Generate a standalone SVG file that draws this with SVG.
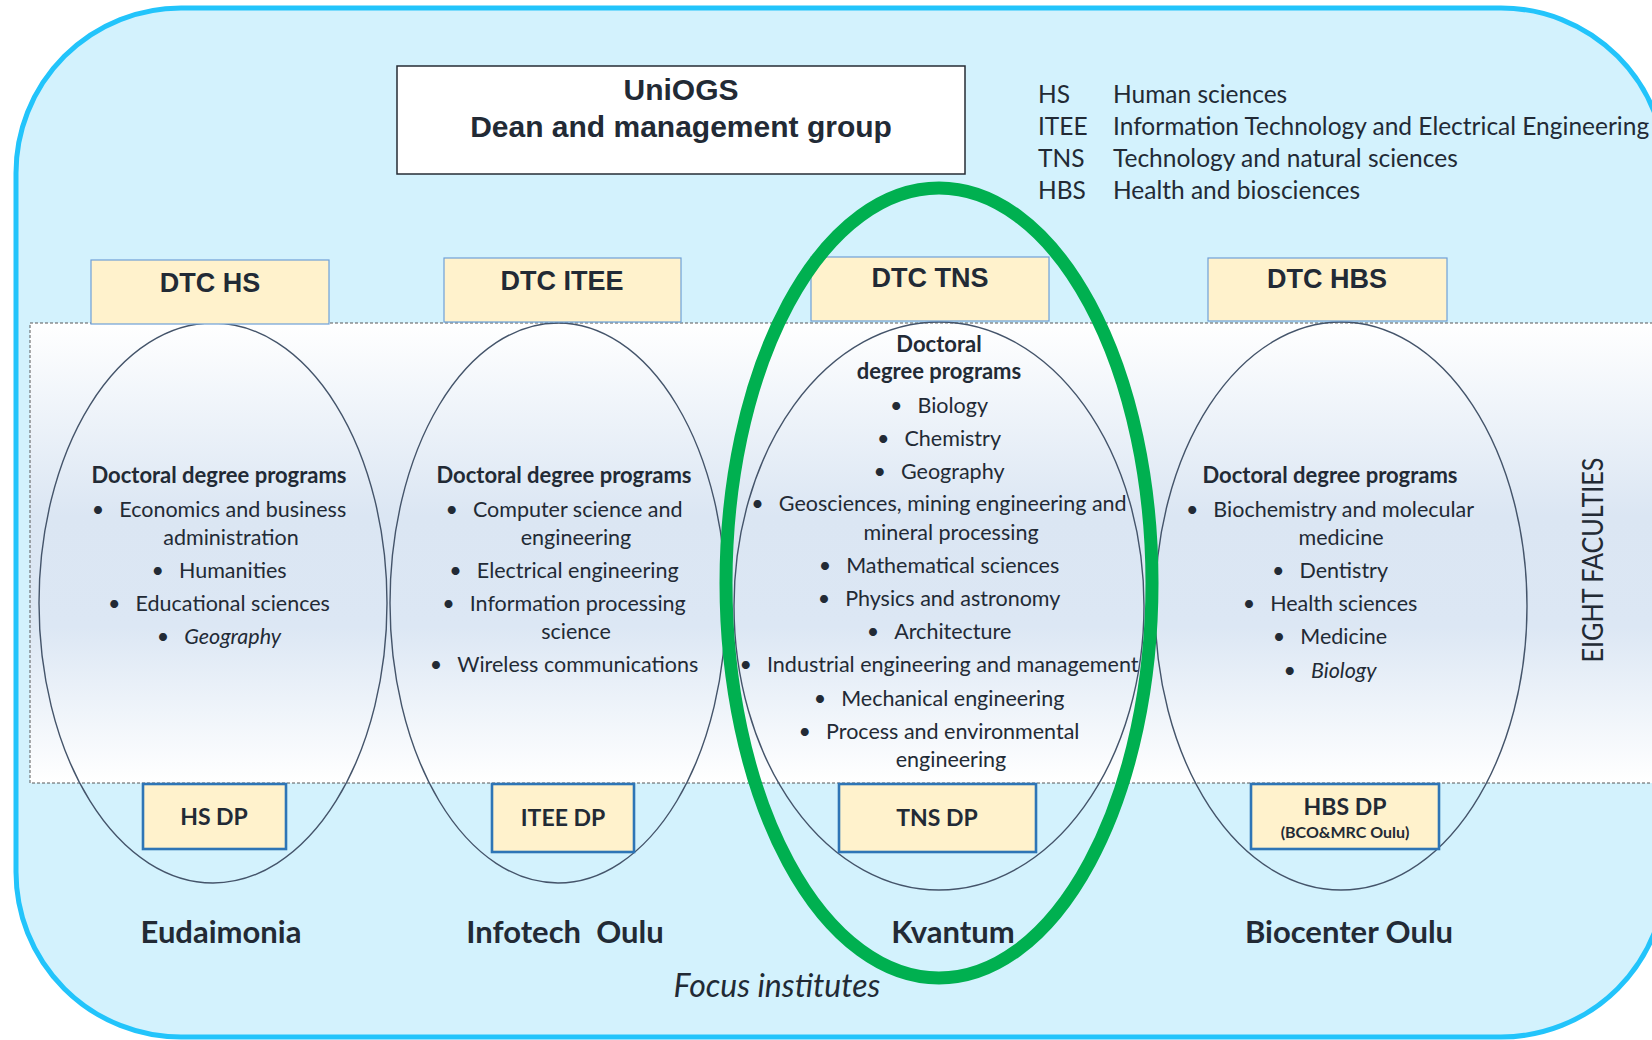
<svg xmlns="http://www.w3.org/2000/svg" width="1652" height="1040" viewBox="0 0 1652 1040">
<defs>
<linearGradient id="bandGrad" x1="0" y1="0" x2="0" y2="1">
<stop offset="0" stop-color="#FFFFFF"/>
<stop offset="0.42" stop-color="#DBE6F3"/>
<stop offset="0.66" stop-color="#DCE7F4"/>
<stop offset="1" stop-color="#FFFFFF"/>
</linearGradient>
<style>
text{fill:#222A35}
.t{font-family:"Lato","Noto Sans",sans-serif}
.a{font-family:"Liberation Sans",Arial,sans-serif;font-weight:bold}
.li{font-size:21.5px;text-anchor:middle}
.hd{font-size:22px;font-weight:bold;text-anchor:middle}
.dtc{fill:#FFF2CC;stroke:#6FA0D8;stroke-width:1.2}
.dp{fill:#FFF2CC;stroke:#2E75B6;stroke-width:2.6}
.ell{fill:none;stroke:#44546A;stroke-width:1.4}
.dtt{font-size:27px;text-anchor:middle}
.dpt{font-size:23px;font-weight:bold;text-anchor:middle}
.inst{font-size:31px;font-weight:bold;text-anchor:middle}
.lg{font-size:24.5px}
</style>
</defs>

<g id="background">
<rect x="16" y="8" width="1650" height="1029" rx="165" ry="165" fill="#D3F2FD" stroke="#22C4FB" stroke-width="5"/>
<rect id="faculties-band" x="30" y="323" width="1640" height="460" fill="url(#bandGrad)" stroke="#595959" stroke-width="1" stroke-dasharray="3,2"/>
</g>

<g id="uniogs">
<rect x="397" y="66" width="568" height="108" fill="#FFFFFF" stroke="#262C35" stroke-width="1.5"/>
<text class="a" x="681" y="100" font-size="30" text-anchor="middle">UniOGS</text>
<text class="a" x="681" y="137" font-size="30" text-anchor="middle">Dean and management group</text>
</g>

<g id="legend" class="t lg">
<text x="1038" y="103">HS</text><text x="1113" y="103">Human sciences</text>
<text x="1038" y="135">ITEE</text><text x="1113" y="135">Information Technology and Electrical Engineering</text>
<text x="1038" y="167">TNS</text><text x="1113" y="167">Technology and natural sciences</text>
<text x="1038" y="199">HBS</text><text x="1113" y="199">Health and biosciences</text>
</g>

<g id="hs-programs">
<ellipse class="ell" cx="213" cy="603" rx="174" ry="280"/>
<g class="t">
<text class="hd" x="219" y="483">Doctoral degree programs</text>
<text class="li" x="219" y="517">•<tspan dx="15">Economics and business</tspan></text>
<text class="li" x="231" y="545">administration</text>
<text class="li" x="219" y="578">•<tspan dx="15">Humanities</tspan></text>
<text class="li" x="219" y="611">•<tspan dx="15">Educational sciences</tspan></text>
<text class="li" x="219" y="644">•<tspan dx="15" font-style="italic">Geography</tspan></text>
</g>
</g>

<g id="itee-programs">
<ellipse class="ell" cx="558" cy="603" rx="168" ry="280"/>
<g class="t">
<text class="hd" x="564" y="483">Doctoral degree programs</text>
<text class="li" x="564" y="517">•<tspan dx="15">Computer science and</tspan></text>
<text class="li" x="576" y="545">engineering</text>
<text class="li" x="564" y="578">•<tspan dx="15">Electrical engineering</tspan></text>
<text class="li" x="564" y="611">•<tspan dx="15">Information processing</tspan></text>
<text class="li" x="576" y="639">science</text>
<text class="li" x="564" y="672">•<tspan dx="15">Wireless communications</tspan></text>
</g>
</g>

<g id="tns-programs">
<ellipse class="ell" cx="939" cy="606" rx="205" ry="284"/>
<g class="t">
<text class="hd" x="939" y="352">Doctoral</text>
<text class="hd" x="939" y="379">degree programs</text>
<text class="li" x="939" y="413">•<tspan dx="15">Biology</tspan></text>
<text class="li" x="939" y="446">•<tspan dx="15">Chemistry</tspan></text>
<text class="li" x="939" y="479">•<tspan dx="15">Geography</tspan></text>
<text class="li" x="939" y="511">•<tspan dx="15">Geosciences, mining engineering and</tspan></text>
<text class="li" x="951" y="540">mineral processing</text>
<text class="li" x="939" y="573">•<tspan dx="15">Mathematical sciences</tspan></text>
<text class="li" x="939" y="606">•<tspan dx="15">Physics and astronomy</tspan></text>
<text class="li" x="939" y="639">•<tspan dx="15">Architecture</tspan></text>
<text class="li" x="939" y="672">•<tspan dx="15">Industrial engineering and management</tspan></text>
<text class="li" x="939" y="706">•<tspan dx="15">Mechanical engineering</tspan></text>
<text class="li" x="939" y="739">•<tspan dx="15">Process and environmental</tspan></text>
<text class="li" x="951" y="767">engineering</text>
</g>
</g>

<g id="hbs-programs">
<ellipse class="ell" cx="1341" cy="606" rx="186" ry="284"/>
<g class="t">
<text class="hd" x="1330" y="483">Doctoral degree programs</text>
<text class="li" x="1330" y="517">•<tspan dx="15">Biochemistry and molecular</tspan></text>
<text class="li" x="1341" y="545">medicine</text>
<text class="li" x="1330" y="578">•<tspan dx="15">Dentistry</tspan></text>
<text class="li" x="1330" y="611">•<tspan dx="15">Health sciences</tspan></text>
<text class="li" x="1330" y="644">•<tspan dx="15">Medicine</tspan></text>
<text class="li" x="1330" y="678">•<tspan dx="15" font-style="italic">Biology</tspan></text>
</g>
</g>

<g id="dtc-hs"><rect class="dtc" x="91" y="260" width="238" height="64"/><text class="a dtt" x="210" y="292">DTC HS</text></g>
<g id="dtc-itee"><rect class="dtc" x="444" y="258" width="237" height="64"/><text class="a dtt" x="562" y="290">DTC ITEE</text></g>
<g id="dtc-tns"><rect class="dtc" x="811" y="257" width="238" height="64"/><text class="a dtt" x="930" y="287">DTC TNS</text></g>
<g id="dtc-hbs"><rect class="dtc" x="1208" y="258" width="239" height="63"/><text class="a dtt" x="1327" y="288">DTC HBS</text></g>

<g id="hs-dp"><rect class="dp" x="143" y="784" width="143" height="65"/><text class="t dpt" x="214" y="825">HS DP</text></g>
<g id="itee-dp"><rect class="dp" x="492" y="784" width="142" height="68"/><text class="t dpt" x="563" y="826">ITEE DP</text></g>
<g id="tns-dp"><rect class="dp" x="839" y="784" width="197" height="68"/><text class="t dpt" x="937" y="826">TNS DP</text></g>
<g id="hbs-dp"><rect class="dp" x="1251" y="784" width="188" height="65"/><text class="t dpt" x="1345" y="815">HBS DP</text><text class="t" x="1345" y="838" font-size="16" font-weight="bold" text-anchor="middle">(BCO&amp;MRC Oulu)</text></g>

<g id="institutes" class="t">
<text class="inst" x="221" y="943">Eudaimonia</text>
<text class="inst" x="565" y="943" xml:space="preserve">Infotech  Oulu</text>
<text class="inst" x="953" y="943">Kvantum</text>
<text class="inst" x="1349" y="943">Biocenter Oulu</text>
<text x="777" y="997" font-size="32" font-style="italic" text-anchor="middle">Focus institutes</text>
</g>

<g id="kvantum-focus">
<ellipse cx="939" cy="583" rx="213" ry="395" fill="none" stroke="#00B050" stroke-width="13"/>
</g>

<g id="eight-faculties">
<text class="t" transform="translate(1603,560) rotate(-90)" font-size="28" text-anchor="middle" textLength="205" lengthAdjust="spacingAndGlyphs">EIGHT FACULTIES</text>
</g>

<g id="connectors"/>
</svg>
